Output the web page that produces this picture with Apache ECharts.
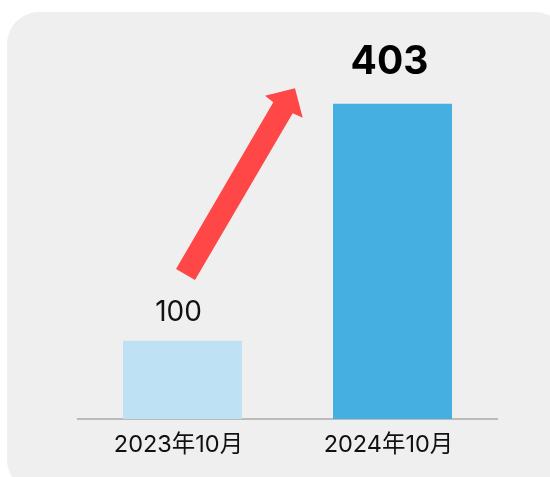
<!DOCTYPE html>
<html>
<head>
<meta charset="utf-8">
<script src="https://cdn.jsdelivr.net/npm/echarts@6/dist/echarts.min.js"></script>
<style>
html,body{margin:0;padding:0;background:#ffffff;}
#chart{width:550px;height:477px;}
</style>
</head>
<body>
<div id="chart"></div>
<script>
const categories = ['2023年10月', '2024年10月'];
const values = [100, 403];
const barColors = ['#bee1f4', '#46afe1'];

const FONT = 'Inter, "Noto Sans CJK JP", sans-serif';
const chart = echarts.init(document.getElementById('chart'), null, {renderer: 'canvas'});

const option = {
  backgroundColor: '#ffffff',
  animation: false,
  graphic: [
    {
      type: 'rect', z: -10, silent: true,
      shape: {x: 7, y: 12, width: 560, height: 480, r: 32},
      style: {fill: '#efefef'}
    },
    {
      type: 'polygon', z: 10, silent: true,
      shape: {points: [[176, 269], [195, 280], [292.7, 113.3], [302.7, 117.7], [295, 88.3], [265, 95.7], [273.3, 102.3]]},
      style: {fill: '#ff4747'}
    }
  ],
  grid: {left: 77.5, right: 52.5, top: 67, bottom: 58, containLabel: false},
  xAxis: {
    type: 'category',
    data: categories,
    axisLine: {lineStyle: {color: '#aaaaaa', width: 1.5}},
    axisTick: {show: false},
    axisLabel: {color: '#111111', fontSize: 23.5, fontFamily: FONT, margin: 14, padding: [0, 8, 0, 0]}
  },
  yAxis: {
    type: 'value', min: 0, max: 450,
    show: false,
    splitLine: {show: false}
  },
  series: [{
    type: 'bar',
    barWidth: 119,
    data: values.map((v, i) => ({
      value: v,
      itemStyle: {color: barColors[i]},
      label: i === 0
        ? {show: true, position: 'top', distance: 14, offset: [-4, 0], fontSize: 28, fontWeight: 'normal', color: '#111111', fontFamily: FONT}
        : {show: true, position: 'top', distance: 22, offset: [-3, 0], fontSize: 39, fontWeight: 'bold', color: '#000000', fontFamily: FONT}
    }))
  }]
};
chart.setOption(option);
</script>
</body>
</html>
